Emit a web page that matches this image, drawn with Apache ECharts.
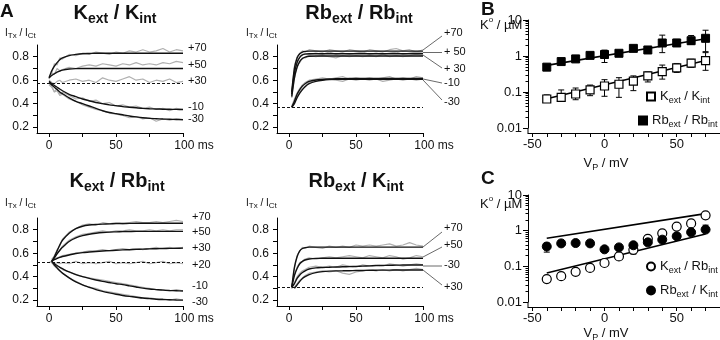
<!DOCTYPE html>
<html><head><meta charset="utf-8">
<script src="https://cdn.jsdelivr.net/npm/echarts@6/dist/echarts.min.js"></script>
<style>html,body{margin:0;padding:0;background:#fff}#c{width:720px;height:340px}</style>
</head><body><div id="c"></div>
<script>
// ---------- time grids (ms) ----------
const tA = [0,2,4,6,8,10,15,20,25,30,35,40,45,50,55,60,65,70,75,80,85,90,95,100];
const tB = [2,4,6,8,10,12,15,20,25,30,35,40,45,50,55,60,65,70,75,80,85,90,95,100];

// ---------- Kext / Kint ----------
const kkFit70 = [0.62,0.68,0.72,0.75,0.775,0.79,0.81,0.82,0.826,0.828,0.83,0.83,0.83,0.83,0.83,0.83,0.83,0.83,0.83,0.83,0.83,0.83,0.83,0.83];
const kkRaw70 = [0.61,0.66,0.74,0.73,0.79,0.78,0.82,0.81,0.83,0.82,0.84,0.83,0.82,0.84,0.83,0.85,0.84,0.86,0.84,0.85,0.87,0.84,0.86,0.85];
const kkFit50 = [0.62,0.64,0.655,0.668,0.678,0.686,0.695,0.699,0.70,0.70,0.70,0.70,0.70,0.70,0.70,0.70,0.70,0.70,0.70,0.70,0.70,0.70,0.70,0.70];
const kkRaw50 = [0.61,0.66,0.65,0.70,0.68,0.69,0.71,0.70,0.72,0.73,0.72,0.74,0.73,0.72,0.74,0.73,0.75,0.73,0.74,0.73,0.75,0.74,0.76,0.75];
const kkRaw30 = [0.60,0.58,0.57,0.59,0.60,0.58,0.60,0.61,0.59,0.60,0.58,0.62,0.60,0.59,0.61,0.63,0.60,0.61,0.58,0.60,0.59,0.61,0.58,0.59];
const kkFitM10 = [0.59,0.57,0.555,0.54,0.525,0.51,0.48,0.46,0.44,0.425,0.41,0.40,0.39,0.383,0.375,0.37,0.365,0.36,0.357,0.355,0.353,0.352,0.351,0.35];
const kkRawM10 = [0.57,0.55,0.50,0.53,0.48,0.50,0.47,0.44,0.45,0.42,0.43,0.40,0.41,0.38,0.39,0.37,0.38,0.36,0.37,0.35,0.36,0.34,0.36,0.35];
const kkFitM30 = [0.58,0.56,0.54,0.52,0.50,0.485,0.45,0.42,0.40,0.38,0.36,0.34,0.325,0.315,0.305,0.295,0.287,0.28,0.275,0.272,0.269,0.267,0.265,0.264];
const kkRawM30 = [0.56,0.54,0.50,0.51,0.47,0.48,0.44,0.42,0.39,0.37,0.35,0.34,0.32,0.31,0.30,0.28,0.29,0.27,0.28,0.25,0.27,0.26,0.27,0.26];
const kkBase = 0.572;

// ---------- Rbext / Rbint ----------
const rrFit70 = [0.50,0.70,0.79,0.825,0.84,0.846,0.848,0.848,0.848,0.848,0.848,0.848,0.848,0.848,0.848,0.848,0.848,0.848,0.848,0.848,0.848,0.848,0.848,0.848];
const rrRaw70 = [0.49,0.72,0.80,0.83,0.85,0.84,0.86,0.85,0.84,0.86,0.85,0.84,0.86,0.85,0.84,0.86,0.85,0.84,0.86,0.87,0.85,0.86,0.84,0.86];
const rrFit50 = [0.48,0.66,0.75,0.795,0.815,0.822,0.825,0.825,0.825,0.825,0.825,0.825,0.825,0.825,0.825,0.825,0.825,0.825,0.825,0.825,0.825,0.825,0.825,0.825];
const rrRaw50 = [0.47,0.67,0.76,0.80,0.82,0.83,0.82,0.83,0.82,0.84,0.82,0.83,0.82,0.83,0.84,0.82,0.83,0.82,0.83,0.84,0.82,0.83,0.84,0.83];
const rrFit30 = [0.46,0.62,0.71,0.76,0.785,0.797,0.804,0.806,0.806,0.806,0.806,0.806,0.806,0.806,0.806,0.806,0.806,0.806,0.806,0.806,0.806,0.806,0.806,0.806];
const rrRaw30 = [0.45,0.61,0.72,0.75,0.79,0.79,0.81,0.80,0.81,0.80,0.79,0.81,0.80,0.81,0.80,0.81,0.80,0.82,0.80,0.81,0.80,0.81,0.82,0.81];
const rrFitM10 = [0.37,0.42,0.48,0.52,0.55,0.57,0.59,0.602,0.607,0.61,0.612,0.613,0.614,0.615,0.615,0.615,0.615,0.615,0.615,0.615,0.615,0.615,0.615,0.615];
const rrRawM10 = [0.38,0.44,0.49,0.53,0.56,0.58,0.60,0.61,0.62,0.61,0.62,0.63,0.61,0.62,0.61,0.62,0.61,0.62,0.63,0.61,0.62,0.61,0.63,0.62];
const rrFitM30 = [0.37,0.40,0.45,0.49,0.52,0.545,0.57,0.59,0.60,0.605,0.607,0.608,0.608,0.608,0.608,0.608,0.608,0.608,0.608,0.608,0.608,0.608,0.608,0.608];
const rrRawM30 = [0.37,0.41,0.46,0.50,0.53,0.55,0.58,0.60,0.60,0.61,0.60,0.59,0.61,0.60,0.61,0.60,0.61,0.59,0.60,0.61,0.60,0.61,0.60,0.61];
const rrBase = 0.37;

// ---------- Kext / Rbint ----------
const krFit70 = [null,0.53,0.57,0.62,0.67,0.71,0.77,0.81,0.83,0.84,0.845,0.848,0.85,0.852,0.853,0.854,0.855,0.855,0.855,0.855,0.855,0.855,0.855,0.855];
const krRaw70 = [null,0.54,0.58,0.63,0.66,0.72,0.78,0.81,0.84,0.85,0.84,0.86,0.85,0.86,0.85,0.86,0.87,0.86,0.86,0.87,0.86,0.87,0.88,0.87];
const krFit50 = [null,0.53,0.56,0.595,0.625,0.65,0.70,0.73,0.75,0.762,0.77,0.776,0.78,0.782,0.784,0.785,0.786,0.786,0.786,0.786,0.786,0.786,0.786,0.786];
const krRaw50 = [null,0.55,0.57,0.60,0.62,0.66,0.71,0.74,0.76,0.77,0.78,0.79,0.78,0.79,0.79,0.80,0.79,0.79,0.80,0.79,0.80,0.79,0.80,0.80];
const krFit30 = [null,0.53,0.545,0.555,0.565,0.572,0.585,0.597,0.605,0.61,0.615,0.619,0.622,0.625,0.628,0.63,0.633,0.635,0.637,0.638,0.64,0.641,0.642,0.643];
const krRaw30 = [null,0.54,0.55,0.56,0.57,0.58,0.59,0.60,0.61,0.62,0.62,0.63,0.62,0.63,0.64,0.63,0.64,0.63,0.64,0.65,0.64,0.65,0.64,0.65];
const krRaw20 = [0.52,0.53,0.51,0.52,0.51,0.52,0.51,0.53,0.51,0.52,0.51,0.52,0.53,0.51,0.52,0.51,0.52,0.53,0.51,0.52,0.53,0.51,0.52,0.51];
const krFitM10 = [null,0.53,0.51,0.495,0.48,0.468,0.44,0.418,0.40,0.385,0.372,0.36,0.35,0.34,0.332,0.322,0.312,0.302,0.295,0.29,0.285,0.282,0.28,0.278];
const krRawM10 = [null,0.52,0.50,0.49,0.48,0.46,0.44,0.42,0.40,0.39,0.38,0.37,0.36,0.35,0.34,0.33,0.32,0.31,0.30,0.29,0.29,0.28,0.29,0.28];
const krFitM30 = [null,0.53,0.50,0.475,0.45,0.43,0.39,0.355,0.33,0.31,0.29,0.275,0.262,0.25,0.24,0.232,0.225,0.218,0.213,0.208,0.205,0.203,0.201,0.20];
const krRawM30 = [null,0.52,0.49,0.47,0.45,0.43,0.39,0.36,0.33,0.31,0.30,0.28,0.27,0.26,0.25,0.24,0.23,0.22,0.22,0.21,0.21,0.20,0.21,0.20];
const krBase = 0.515;

// ---------- Rbext / Kint ----------
const rkFit70 = [0.31,0.48,0.57,0.62,0.64,0.648,0.652,0.652,0.652,0.652,0.652,0.652,0.652,0.652,0.652,0.652,0.652,0.652,0.652,0.652,0.652,0.652,0.652,0.652];
const rkRaw70 = [0.30,0.47,0.58,0.62,0.65,0.64,0.66,0.65,0.64,0.66,0.65,0.66,0.65,0.67,0.66,0.67,0.66,0.67,0.68,0.66,0.67,0.69,0.67,0.66];
const rkFit50 = [0.31,0.41,0.47,0.51,0.53,0.542,0.55,0.556,0.557,0.557,0.557,0.557,0.557,0.557,0.557,0.557,0.557,0.557,0.557,0.557,0.557,0.557,0.557,0.557];
const rkRaw50 = [0.31,0.42,0.48,0.52,0.53,0.55,0.56,0.55,0.56,0.57,0.56,0.57,0.58,0.57,0.56,0.58,0.57,0.56,0.58,0.57,0.55,0.56,0.58,0.57];
const rkFitM30 = [0.31,0.34,0.385,0.415,0.435,0.45,0.465,0.475,0.478,0.48,0.482,0.484,0.486,0.488,0.49,0.492,0.494,0.496,0.497,0.498,0.499,0.50,0.50,0.50];
const rkRawM30 = [0.30,0.35,0.40,0.43,0.45,0.46,0.48,0.49,0.48,0.49,0.48,0.50,0.49,0.48,0.50,0.49,0.50,0.49,0.51,0.50,0.49,0.50,0.51,0.50];
const rkFit30 = [null,0.30,0.33,0.36,0.385,0.40,0.418,0.435,0.443,0.447,0.449,0.45,0.451,0.452,0.453,0.454,0.455,0.456,0.456,0.457,0.457,0.457,0.457,0.457];
const rkRaw30 = [null,0.31,0.34,0.37,0.39,0.41,0.43,0.44,0.45,0.44,0.45,0.43,0.42,0.44,0.45,0.46,0.45,0.46,0.45,0.46,0.45,0.46,0.47,0.46];
const rkBase = 0.314;

// ---------- Panel B (K° vs Vp) ----------
const vp = [-40,-30,-20,-10,0,10,20,30,40,50,60,70];
const bKK   = [0.064,0.071,0.088,0.114,0.147,0.164,0.20,0.28,0.37,0.47,0.63,0.74];
const bKKLo = [0.052,0.058,0.061,0.079,0.076,0.071,0.109,0.19,0.228,0.35,0.48,0.40];
const bKKHi = [0.083,0.114,0.129,0.156,0.22,0.25,0.28,0.36,0.56,0.62,0.81,1.24];
const bRR   = [0.49,0.70,0.83,1.04,1.10,1.19,1.63,1.47,2.3,2.3,2.66,3.1];
const bRRLo = [0.45,0.63,0.76,0.88,0.66,1.05,1.5,1.35,1.24,2.0,2.1,1.32];
const bRRHi = [0.54,0.78,0.92,1.2,1.46,1.35,1.8,1.6,3.8,2.9,3.7,5.2];
const fitV  = [-40,70];
const bFitKK = [0.065,0.75];
const bFitRR = [0.55,3.0];

// ---------- Panel C ----------
const cKR   = [0.044,0.053,0.07,0.09,0.124,0.19,0.29,0.59,0.84,1.3,1.6,2.7];
const cKRLo = [0.040,0.045,0.064,0.082,0.114,0.175,0.22,0.54,0.77,1.2,1.45,2.45];
const cKRHi = [0.048,0.058,0.076,0.098,0.135,0.21,0.32,0.65,0.92,1.42,1.97,3.0];
const cRK   = [0.36,0.44,0.45,0.44,0.30,0.34,0.39,0.47,0.56,0.70,0.90,1.07];
const cRKLo = [0.25,0.40,0.41,0.40,0.27,0.31,0.35,0.43,0.51,0.64,0.82,0.98];
const cRKHi = [0.45,0.53,0.49,0.48,0.33,0.37,0.43,0.51,0.61,0.77,0.98,1.43];
const cFitHi = [0.61,3.0];
const cFitLo = [0.065,0.81];

// ---------- tick values ----------
const traceXTicks = [0,25,50,75,100];
const traceXLabels = [0,50,100];
const traceYTicks = [0.2,0.3,0.4,0.5,0.6,0.7,0.8];
const traceYLabels = [0.2,0.4,0.6,0.8];
const vpTicks = [-50,-40,-30,-20,-10,0,10,20,30,40,50,60,70];
const vpLabels = [-50,0,50];

const F = '"Liberation Sans", Arial, Helvetica, sans-serif';
const chart = echarts.init(document.getElementById('c'), null, {renderer:'canvas'});

const gridsPx = [
  {left:37, top:45, width:146, height:88},
  {left:277, top:45, width:146, height:88},
  {left:37, top:218, width:146, height:88},
  {left:277, top:218, width:146, height:88},
  {left:528, top:20, width:192, height:108},
  {left:528, top:195, width:192, height:107}
];

const axLine = {show:true, onZero:false, lineStyle:{color:'#000', width:1}};
const xAxes = [], yAxes = [];
for (let i=0;i<4;i++){
  xAxes.push({gridIndex:i, type:'value', min:-9, max:100, axisLine:axLine,
    axisTick:{show:true, length:4, customValues:traceXTicks, lineStyle:{color:'#000'}},
    axisLabel:{customValues:traceXLabels, margin:7, fontSize:12, fontFamily:F, color:'#111',
      formatter:v=> v===100 ? '{p|}100 ms' : String(v), rich:{p:{width:22}}},
    splitLine:{show:false}});
  yAxes.push({gridIndex:i, type:'value', min:0.15, max:0.9, axisLine:axLine,
    axisTick:{show:true, length:4, customValues:traceYTicks, lineStyle:{color:'#000'}},
    axisLabel:{customValues:traceYLabels, margin:8, fontSize:12, fontFamily:F, color:'#111',
      formatter:v=>v.toFixed(1)},
    splitLine:{show:false}});
}
for (let i=4;i<6;i++){
  xAxes.push({gridIndex:i, type:'value', min:-53, max:80, offset:5, axisLine:axLine,
    axisTick:{show:true, length:4, customValues:vpTicks, lineStyle:{color:'#000'}},
    axisLabel:{customValues:vpLabels, margin:5, fontSize:13, fontFamily:F, color:'#111'},
    splitLine:{show:false}});
  yAxes.push({gridIndex:i, type:'log', logBase:10, min:0.01, max:10, axisLine:axLine,
    axisTick:{show:true, length:5, lineStyle:{color:'#000'}},
    minorTick:{show:true, splitNumber:9, length:2.5, lineStyle:{color:'#000'}},
    axisLabel:{margin:6, fontSize:13, fontFamily:F, color:'#111'},
    splitLine:{show:false}, minorSplitLine:{show:false}});
}

const series = [];
function trace(gi, t, vals, kind, base){
  const s = {type:'line', xAxisIndex:gi, yAxisIndex:gi, silent:true, symbol:'none', showSymbol:false,
    data: t.map((x,i)=>[x, vals[i]]),
    smooth: kind==='fit' ? 0.25 : false,
    lineStyle: kind==='fit' ? {color:'#111', width:1.4} : {color:'#b0b0b0', width:1.2},
    z: kind==='fit' ? 4 : 2, animation:false};
  if (base !== undefined){
    s.markLine = {silent:true, symbol:'none', label:{show:false}, animation:false,
      lineStyle:{type:[3,2], color:'#111', width:1}, data:[{yAxis:base}]};
  }
  series.push(s);
}
// Panel A1
trace(0,tA,kkRaw70,'raw'); trace(0,tA,kkRaw50,'raw'); trace(0,tA,kkRaw30,'raw',kkBase);
trace(0,tA,kkRawM10,'raw'); trace(0,tA,kkRawM30,'raw');
trace(0,tA,kkFit70,'fit'); trace(0,tA,kkFit50,'fit'); trace(0,tA,kkFitM10,'fit'); trace(0,tA,kkFitM30,'fit');
// Panel A2
trace(1,tB,rrRaw70,'raw',rrBase); trace(1,tB,rrRaw50,'raw'); trace(1,tB,rrRaw30,'raw');
trace(1,tB,rrRawM10,'raw'); trace(1,tB,rrRawM30,'raw');
trace(1,tB,rrFit70,'fit'); trace(1,tB,rrFit50,'fit'); trace(1,tB,rrFit30,'fit');
trace(1,tB,rrFitM10,'fit'); trace(1,tB,rrFitM30,'fit');
// Panel A3
trace(2,tA,krRaw70,'raw'); trace(2,tA,krRaw50,'raw'); trace(2,tA,krRaw30,'raw');
trace(2,tA,krRaw20,'raw',krBase); trace(2,tA,krRawM10,'raw'); trace(2,tA,krRawM30,'raw');
trace(2,tA,krFit70,'fit'); trace(2,tA,krFit50,'fit'); trace(2,tA,krFit30,'fit');
trace(2,tA,krFitM10,'fit'); trace(2,tA,krFitM30,'fit');
// Panel A4
trace(3,tB,rkRaw70,'raw',rkBase); trace(3,tB,rkRaw50,'raw'); trace(3,tB,rkRawM30,'raw'); trace(3,tB,rkRaw30,'raw');
trace(3,tB,rkFit70,'fit'); trace(3,tB,rkFit50,'fit'); trace(3,tB,rkFitM30,'fit'); trace(3,tB,rkFit30,'fit');

function fitLine(gi, ys){
  series.push({type:'line', xAxisIndex:gi, yAxisIndex:gi, silent:true, symbol:'none',
    data: fitV.map((x,i)=>[x, ys[i]]), lineStyle:{color:'#000', width:1.6}, z:3, animation:false});
}
function errBars(gi, lo, hi){
  series.push({type:'custom', xAxisIndex:gi, yAxisIndex:gi, silent:true, z:2, animation:false,
    data: vp.map((x,i)=>[x, lo[i], hi[i]]), encode:{x:0, y:[1,2]},
    renderItem:(params, api)=>{
      const x = api.value(0);
      const p1 = api.coord([x, api.value(1)]), p2 = api.coord([x, api.value(2)]);
      const w = 3, st = {stroke:'#000', lineWidth:1};
      return {type:'group', children:[
        {type:'line', shape:{x1:p1[0], y1:p1[1], x2:p2[0], y2:p2[1]}, style:st},
        {type:'line', shape:{x1:p1[0]-w, y1:p1[1], x2:p1[0]+w, y2:p1[1]}, style:st},
        {type:'line', shape:{x1:p2[0]-w, y1:p2[1], x2:p2[0]+w, y2:p2[1]}, style:st}
      ]};
    }});
}
function pts(gi, name, vals, symbol, filled){
  series.push({type:'scatter', name:name, xAxisIndex:gi, yAxisIndex:gi, silent:true, z:5, animation:false,
    symbol:symbol, symbolSize: symbol==='rect'?8:9,
    itemStyle: filled ? {color:'#000', borderColor:'#000', borderWidth:1, opacity:1} : {color:'#fff', borderColor:'#000', borderWidth:1.2, opacity:1},
    data: vp.map((x,i)=>[x, vals[i]])});
}
// Panel B
fitLine(4, bFitKK); fitLine(4, bFitRR);
errBars(4, bKKLo, bKKHi); errBars(4, bRRLo, bRRHi);
pts(4, 'KK', bKK, 'rect', false); pts(4, 'RR', bRR, 'rect', true);
// Panel C
fitLine(5, cFitHi); fitLine(5, cFitLo);
errBars(5, cKRLo, cKRHi); errBars(5, cRKLo, cRKHi);
pts(5, 'KR', cKR, 'circle', false); pts(5, 'RK', cRK, 'circle', true);

const legRich = {m:{fontSize:13, fontFamily:F, color:'#111', lineHeight:18, verticalAlign:'middle'},
                 s:{fontSize:9, fontFamily:F, color:'#111', lineHeight:11, verticalAlign:'bottom'}};
const legText = {KK:'{m|K}{s|ext}{m| / K}{s|int}', RR:'{m|Rb}{s|ext}{m| / Rb}{s|int}',
                 KR:'{m|K}{s|ext}{m| / Rb}{s|int}', RK:'{m|Rb}{s|ext}{m| / K}{s|int}'};
function leg(name, left, top, icon){
  return {data:[{name:name, icon:icon}], left:left, top:top, padding:0, itemWidth:8, itemHeight:8,
    selectedMode:false, formatter:n=>legText[n], textStyle:{rich:legRich}};
}

// ---------- text decorations ----------
const titleRich = {m:{fontSize:20, fontWeight:'bold', fontFamily:F, color:'#111', lineHeight:26},
                   s:{fontSize:14, fontWeight:'bold', fontFamily:F, color:'#111', lineHeight:15, verticalAlign:'bottom'}};
const unitRich = {m:{fontSize:10, fontFamily:F, color:'#111', lineHeight:14},
                  s:{fontSize:8, fontFamily:F, color:'#111', lineHeight:9, verticalAlign:'bottom'}};
const kRich = {m:{fontSize:13, fontFamily:F, color:'#111', lineHeight:18},
               p:{fontSize:8, fontFamily:F, color:'#111', lineHeight:10, verticalAlign:'top'}};
const vRich = {m:{fontSize:13, fontFamily:F, color:'#111', lineHeight:18},
               s:{fontSize:9, fontFamily:F, color:'#111', lineHeight:11, verticalAlign:'bottom'}};

const G = [];
function txt(x, y, text, opts){
  opts = opts || {};
  const style = {text:text, fill:'#111', fontSize:opts.size||11, fontFamily:F,
    fontWeight: opts.bold ? 'bold' : 'normal',
    align:opts.align||'left', textAlign:opts.align||'left',
    verticalAlign:'middle', textVerticalAlign:'middle'};
  if (opts.rich) style.rich = opts.rich;
  G.push({type:'text', x:x, y:y, silent:true, z:10, style:style});
}
function seg(x1,y1,x2,y2){
  G.push({type:'line', silent:true, z:10, shape:{x1:x1,y1:y1,x2:x2,y2:y2}, style:{stroke:'#444', lineWidth:0.8}});
}
// panel letters
txt(0, 12, 'A', {size:19, bold:true});
txt(481, 10, 'B', {size:19, bold:true});
txt(481, 179, 'C', {size:19, bold:true});
// titles
txt(115, 13, '{m|K}{s|ext}{m| / K}{s|int}', {align:'center', rich:titleRich});
txt(359, 13, '{m|Rb}{s|ext}{m| / Rb}{s|int}', {align:'center', rich:titleRich});
txt(117, 181, '{m|K}{s|ext}{m| / Rb}{s|int}', {align:'center', rich:titleRich});
txt(356, 181, '{m|Rb}{s|ext}{m| / K}{s|int}', {align:'center', rich:titleRich});
// unit labels
const unitStr = '{m|I}{s|Tx}{m| / I}{s|Ct}';
txt(5, 33, unitStr, {rich:unitRich});
txt(246, 33, unitStr, {rich:unitRich});
txt(5, 203, unitStr, {rich:unitRich});
txt(246, 203, unitStr, {rich:unitRich});
txt(480, 25, '{m|K}{p|o}{m| / µM}', {rich:kRich});
txt(480, 204, '{m|K}{p|o}{m| / µM}', {rich:kRich});
txt(606, 163, '{m|V}{s|P}{m| / mV}', {align:'center', rich:vRich});
txt(606, 333, '{m|V}{s|P}{m| / mV}', {align:'center', rich:vRich});
// trace labels A1
[['+70',48],['+50',65],['+30',81],['-10',107],['-30',119]].forEach(a=>txt(188,a[1],a[0],{size:11}));
// A3
[['+70',217],['+50',232],['+30',248],['+20',265],['-10',286],['-30',302]].forEach(a=>txt(192,a[1],a[0],{size:11}));
// A2 with leader lines
[['+70',33],['+ 50',52],['+ 30',69],['-10',83],['-30',102]].forEach(a=>txt(444,a[1],a[0],{size:11}));
seg(423,50,442,36); seg(423,52.5,442,52.5); seg(423,55,442,68); seg(423,79,442,83); seg(423,80,442,100);
// A4
[['+70',228],['+50',245],['-30',265],['+30',287]].forEach(a=>txt(444,a[1],a[0],{size:11}));
seg(423,247,442,232); seg(423,257,442,247); seg(423,266,442,266); seg(423,270,442,285);
// y-axis stubs joining the offset x-axes in B and C
seg(528,128,528,133.5); seg(528,302,528,307.5);
G[G.length-1].style = G[G.length-2].style = {stroke:'#000', lineWidth:1};

chart.setOption({
  animation:false,
  backgroundColor:'#fff',
  grid: gridsPx.map(g=>Object.assign({containLabel:false}, g)),
  xAxis: xAxes, yAxis: yAxes, series: series,
  legend: [leg('KK',646,90,'rect'), leg('RR',638,114,'rect'), leg('KR',646,260,'circle'), leg('RK',646,284,'circle')],
  graphic: {elements: G}
});
</script>
</body></html>
